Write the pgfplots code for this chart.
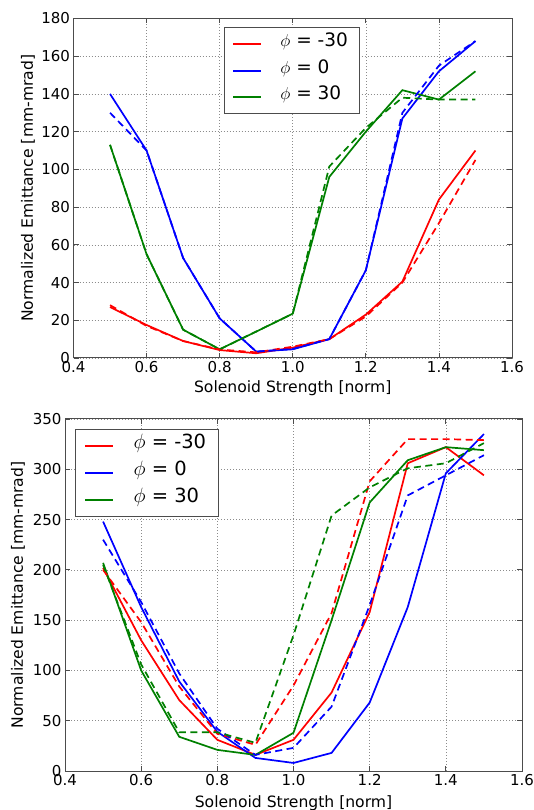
\documentclass[border=0pt]{standalone}
\usepackage{fontspec}
\setmainfont{DejaVu Sans}
\usepackage{pgfplots}
\pgfplotsset{compat=1.18}

\definecolor{mplred}{rgb}{1,0,0}
\definecolor{mplblue}{rgb}{0,0,1}
\definecolor{mplgreen}{rgb}{0,0.5,0}

\pgfplotsset{
  emit/.style={
    scale only axis,
    xmin=0.4, xmax=1.6,
    xtick={0.4,0.6,0.8,1.0,1.2,1.4,1.6},
    grid=major,
    major grid style={dash pattern=on 1pt off 2pt, black!45, line width=0.6pt},
    axis line style={black!70, line width=1pt},
    tick align=inside,
    major tick length=5pt,
    tick style={black!70, line width=0.8pt},
    /pgf/number format/assume math mode=true,
    xticklabel style={/pgf/number format/.cd, fixed, fixed zerofill, precision=1},
    tick label style={font=\fontsize{15}{18}\selectfont},
    label style={font=\fontsize{15.6}{18}\selectfont},
    xlabel={Solenoid Strength [norm]},
    ylabel={Normalized Emittance [mm-mrad]},
    legend cell align=left,
    legend image code/.code={\fill[##1, draw=none] (0pt,-1.1pt) rectangle (28pt,1.1pt);},
    legend style={draw=black!70, line width=1pt, fill=white,
      font=\fontsize{18.5}{21}\selectfont, anchor=north west,
      inner xsep=9pt, inner ysep=9pt, row sep=11pt,
      nodes={inner sep=3pt, text height=0.75em, text depth=0.2em},
      /tikz/every odd column/.append style={column sep=16pt}},
  },
  sol/.style={line width=1.7pt},
  das/.style={line width=1.7pt, dash pattern=on 7pt off 4.5pt},
}

\begin{document}
\begin{tikzpicture}
\useasboundingbox (0pt,0pt) rectangle (534pt,810pt);

% upper panel
\begin{axis}[emit,
  at={(73.5pt,452pt)}, anchor=south west,
  width=438.5pt, height=339.5pt,
  ymin=0, ymax=180, ytick={0,20,...,180},
  ylabel style={at={(axis description cs:-0.1038,0.5)}, anchor=center},
  xlabel style={at={(axis description cs:0.5,-0.088)}, anchor=center},
  legend style={at={(axis description cs:0.343,0.975)}},
]
\addplot[sol, mplred] coordinates {
  (0.5,27) (0.6,17.5) (0.7,9) (0.8,4.2) (0.9,2.5) (1.0,5.5) (1.1,10) (1.2,23) (1.3,40.5) (1.4,84) (1.5,110)
};
\addlegendentry{$\phi$ = -30}
\addplot[sol, mplblue] coordinates {
  (0.5,140) (0.6,110) (0.7,53) (0.8,21) (0.9,3.4) (1.0,4.6) (1.1,10) (1.2,46.5) (1.3,127) (1.4,152) (1.5,168)
};
\addlegendentry{$\phi$ = 0}
\addplot[sol, mplgreen] coordinates {
  (0.5,113) (0.6,55) (0.7,15) (0.8,4.6) (0.9,14) (1.0,23.5) (1.1,96) (1.2,120) (1.3,142) (1.4,137) (1.5,152)
};
\addlegendentry{$\phi$ = 30}
\addplot[das, mplred, forget plot] coordinates {
  (0.5,28) (0.6,17) (0.7,9) (0.8,4.5) (0.9,3) (1.0,6) (1.1,10) (1.2,22) (1.3,40) (1.4,71.5) (1.5,105)
};
\addplot[das, mplblue, forget plot] coordinates {
  (0.5,130) (0.6,110) (0.7,53) (0.8,21) (0.9,3.4) (1.0,4.8) (1.1,10) (1.2,46.5) (1.3,130) (1.4,155) (1.5,168)
};
\addplot[das, mplgreen, forget plot] coordinates {
  (0.5,113) (0.6,55) (0.7,15) (0.8,4.6) (0.9,14) (1.0,23.5) (1.1,101.5) (1.2,122) (1.3,138) (1.4,137) (1.5,137)
};
\end{axis}

% lower panel
\begin{axis}[emit,
  at={(65pt,39pt)}, anchor=south west,
  width=457pt, height=352pt,
  ymin=0, ymax=350, ytick={0,50,...,350},
  ylabel style={at={(axis description cs:-0.1028,0.5)}, anchor=center},
  xlabel style={at={(axis description cs:0.5,-0.091)}, anchor=center},
  legend style={at={(axis description cs:0.022,0.972)},
    font=\fontsize{19.5}{22}\selectfont, row sep=11.5pt,
    /tikz/every odd column/.append style={column sep=18pt}},
]
\addplot[sol, mplred] coordinates {
  (0.5,202) (0.6,130) (0.7,70.5) (0.8,31) (0.9,16) (1.0,31) (1.1,78) (1.2,158) (1.3,306) (1.4,322) (1.5,294)
};
\addlegendentry{$\phi$ = -30}
\addplot[sol, mplblue] coordinates {
  (0.5,248) (0.6,163) (0.7,89) (0.8,39) (0.9,13) (1.0,8) (1.1,18) (1.2,68) (1.3,163) (1.4,296) (1.5,335)
};
\addlegendentry{$\phi$ = 0}
\addplot[sol, mplgreen] coordinates {
  (0.5,207) (0.6,100) (0.7,34) (0.8,21) (0.9,16) (1.0,38) (1.1,150) (1.2,267) (1.3,309) (1.4,322) (1.5,319)
};
\addlegendentry{$\phi$ = 30}
\addplot[das, mplred, forget plot] coordinates {
  (0.5,200) (0.6,148) (0.7,84) (0.8,37) (0.9,26) (1.0,85) (1.1,157) (1.2,288) (1.3,330) (1.4,330) (1.5,329)
};
\addplot[das, mplblue, forget plot] coordinates {
  (0.5,230) (0.6,168) (0.7,97) (0.8,42) (0.9,16) (1.0,23) (1.1,64) (1.2,165) (1.3,274) (1.4,294) (1.5,314)
};
\addplot[das, mplgreen, forget plot] coordinates {
  (0.5,205) (0.6,106) (0.7,38.5) (0.8,38.5) (0.9,28) (1.0,135) (1.1,254) (1.2,282) (1.3,301) (1.4,306) (1.5,326)
};
\end{axis}
\end{tikzpicture}
\end{document}
